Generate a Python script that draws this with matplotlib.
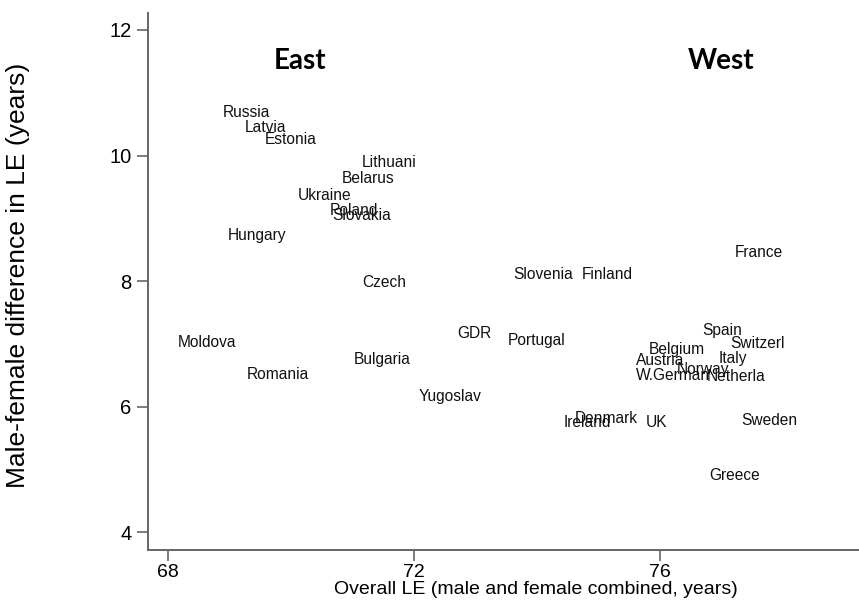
import matplotlib.pyplot as plt

# Overall life expectancy vs. male-female gap, by country
countries = ['Russia', 'Latvia', 'Estonia', 'Lithuani', 'Belarus', 'Ukraine',
             'Poland', 'Slovakia', 'Hungary', 'Czech', 'Moldova', 'Romania',
             'Bulgaria', 'GDR', 'Yugoslav', 'Slovenia', 'Finland', 'France',
             'Portugal', 'Spain', 'Switzerl', 'Belgium', 'Austria', 'Italy',
             'Norway', 'W.German', 'Netherla', 'Denmark', 'Ireland', 'UK',
             'Sweden', 'Greece']
overall_le = [68.84, 69.20, 69.53, 71.10, 70.78, 70.06,
              70.59, 70.62, 68.92, 71.11, 68.12, 69.24,
              70.98, 72.66, 72.03, 73.57, 74.68, 77.16,
              73.48, 76.63, 77.09, 75.77, 75.55, 76.90,
              76.22, 75.55, 76.70, 74.56, 74.38, 75.71,
              77.26, 76.74]
le_gap = [10.69, 10.44, 10.25, 9.89, 9.64, 9.37,
          9.13, 9.05, 8.73, 7.98, 7.03, 6.52,
          6.76, 7.16, 6.17, 8.11, 8.11, 8.46,
          7.05, 7.21, 7.01, 6.92, 6.73, 6.77,
          6.59, 6.50, 6.49, 5.82, 5.75, 5.75,
          5.78, 4.90]

x_ticks = [68, 72, 76]
y_ticks = [4, 6, 8, 10, 12]

fig = plt.figure(figsize=(8.59, 6.03), dpi=100)
ax = fig.add_axes([0.1723, 0.0879, 0.8277, 0.8905])

# labels only, no markers (Stata msymbol(none) mlabel(country))
for name, x, y in zip(countries, overall_le, le_gap):
    ax.annotate(name, (x, y), xytext=(2.2, 0), textcoords='offset points',
                ha='left', va='center', fontsize=11.2, family='Liberation Sans',
                color='#111111')

ax.text(70.15, 11.50, 'East', fontsize=20, fontweight='bold', family='Lato',
        ha='center', va='center')
ax.text(76.99, 11.50, 'West', fontsize=20, fontweight='bold', family='Lato',
        ha='center', va='center')

ax.set_xlim(67.68, 79.23)
ax.set_ylim(3.72, 12.27)
ax.set_xticks(x_ticks)
ax.set_yticks(y_ticks)

for side in ['top', 'right']:
    ax.spines[side].set_visible(False)
for side in ['left', 'bottom']:
    ax.spines[side].set_color('#666666')
    ax.spines[side].set_linewidth(1.4)
ax.tick_params(length=8, width=1.2, color='#666666', labelsize=14.5)
ax.tick_params(axis='x', labelsize=14, pad=2)
ax.tick_params(axis='y', pad=4)
for lab in ax.get_xticklabels() + ax.get_yticklabels():
    lab.set_family('Liberation Sans')

ax.set_xlabel('Overall LE (male and female combined, years)', fontsize=14,
              family='Liberation Sans')
ax.xaxis.set_label_coords(0.546, -0.058)
ax.set_ylabel('Male-female difference in LE (years)', fontsize=19,
              family='Liberation Sans', va='center')
ax.yaxis.set_label_coords(-0.183, 0.512)

fig.savefig('out.png', dpi=100)
